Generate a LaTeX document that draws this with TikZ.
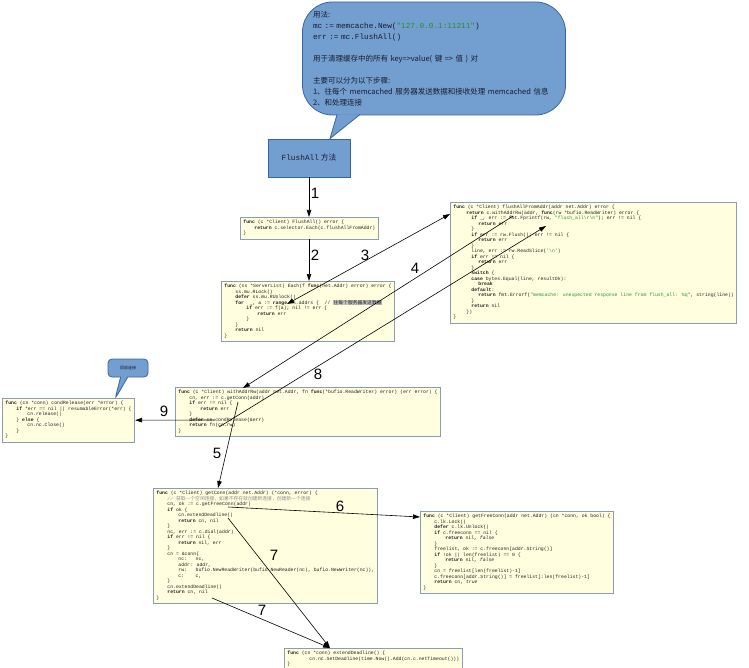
\documentclass[tikz,border=0pt]{standalone}
\usepackage{fontspec}
\setmainfont{Liberation Sans}
\newfontfamily\cjk{Noto Sans CJK SC}
\newfontfamily\codemono{Liberation Mono}
\usetikzlibrary{arrows.meta,calc,shapes.callouts}

\definecolor{notefill}{HTML}{729FCF}
\definecolor{noteedge}{HTML}{3465A4}
\definecolor{notetext}{HTML}{1A1A2E}
\definecolor{codefill}{HTML}{FFFFE0}
\definecolor{codeedge}{HTML}{8A9DB5}
\definecolor{codetext}{HTML}{202020}
\definecolor{strgreen}{HTML}{2E8B2E}
\definecolor{cmtgray}{HTML}{8A8A8A}

\newcommand\kw[1]{\textbf{#1}}
\newcommand\str[1]{\textcolor{strgreen}{#1}}
\newcommand\cmt[1]{\textcolor{cmtgray}{\itshape #1}}
\newcommand\hilite[1]{{\setlength\fboxsep{0.3pt}\colorbox{black!22}{#1}}}
\newcommand\codeind[1]{\hspace*{#1pt}}
\newcommand\idt{\codeind{11}}

\begin{document}
\begin{tikzpicture}[
    x=1pt, y=-1pt,
    >={Triangle[length=7pt,width=4.5pt]},
    codebox/.style={
        draw=codeedge,
        fill=codefill,
        line width=0.8pt,
        anchor=north west,
        align=left,
        inner sep=3pt,
        text=codetext,
        font=\codemono\fontsize{4.8}{5.5}\selectfont
    },
    note/.style={
        fill=notefill,
        draw=noteedge,
        line width=0.8pt,
        text=notetext
    },
    flow/.style={->, line width=0.6pt},
    numlabel/.style={font=\fontsize{15}{15}\selectfont, inner sep=0pt}
]
\useasboundingbox (0,0) rectangle (749,668);

% usage note and entry
\node[note, rounded corners=30pt, minimum width=263pt, minimum height=113pt,
      text width=242pt, align=left, inner sep=0pt,
      font=\cjk\fontsize{7.5}{11}\selectfont] (usage) at (434,58.5) {
    用法:\\
    {\codemono\fontsize{7.7}{11}\selectfont mc := memcache.New(\str{"127.0.0.1:11211"})}\\
    {\codemono\fontsize{7.7}{11}\selectfont err := mc.FlushAll()}\\[11pt]
    用于清理缓存中的所有 key=>value( 键 => 值 ) 对\\[11pt]
    主要可以分为以下步骤:\\
    \mbox{1、往每个 memcached 服务器发送数据和接收处理 memcached 信息}\\
    2、和处理连接
};
\node[note, minimum width=82pt, minimum height=38pt, inner sep=0pt] (flushall) at (309,158)
    {\codemono\fontsize{7.8}{9}\selectfont FlushAll\cjk\ 方法};

\coordinate (bubbletip) at (flushall.north -| 330,0);
\coordinate (tailleft) at ($(usage.south west)+(35,-1)$);
\coordinate (tailright) at ($(usage.south west)+(58,-1)$);
\fill[notefill] (tailleft) -- (bubbletip) -- (tailright) -- cycle;
\draw[noteedge, line width=0.8pt] (tailleft) -- (bubbletip) -- (tailright);

% code boxes
\node[codebox] (flushallcode) at (240,217) {
\kw{func} (c *Client) FlushAll() error \{\\
\idt\kw{return} c.selector.Each(c.flushAllFromAddr)\\
\}};

\node[codebox] (eachcode) at (221,281) {
\kw{func} (ss *ServerList) Each(f \kw{func}(net.Addr) error) error \{\\
\idt ss.mu.RLock()\\
\idt\kw{defer} ss.mu.RUnlock()\\
\idt\kw{for} \ \_, a := \kw{range} ss.addrs \{ \ // \hilite{\cjk 往每个服务器发送数据}\\
\idt\idt\kw{if} err := f(a); nil != err \{\\
\idt\idt\idt\kw{return} err\\
\idt\idt\}\\
\idt\}\\
\idt\kw{return} nil\\
\}};

\node[codebox] (fromaddrcode) at (450,202) {
\kw{func} (c *Client) flushAllFromAddr(addr net.Addr) error \{\\
\codeind{13}\kw{return} c.withAddrRw(addr, \kw{func}(rw *bufio.ReadWriter) error \{\\
\codeind{18}\kw{if} \_, err := fmt.Fprintf(rw, \str{"flush\_all\textbackslash r\textbackslash n"}); err != nil \{\\
\codeind{25}\kw{return} err\\
\codeind{18}\}\\
\codeind{18}\kw{if} err := rw.Flush(); err != nil \{\\
\codeind{25}\kw{return} err\\
\codeind{18}\}\\
\codeind{18}line, err := rw.ReadSlice(\str{'\textbackslash n'})\\
\codeind{18}\kw{if} err != nil \{\\
\codeind{25}\kw{return} err\\
\codeind{18}\}\\
\codeind{18}\kw{switch} \{\\
\codeind{18}\kw{case} bytes.Equal(line, resultOk):\\
\codeind{25}\kw{break}\\
\codeind{18}\kw{default}:\\
\codeind{25}\kw{return} fmt.Errorf(\str{"memcache: unexpected response line from flush\_all: \%q"}, string(line))\\
\codeind{18}\}\\
\codeind{18}\kw{return} nil\\
\codeind{13}\})\\
\}};

\node[codebox] (rwcode) at (175,387) {
\kw{func} (c *Client) withAddrRw(addr net.Addr, fn \kw{func}(*bufio.ReadWriter) error) (err error) \{\\
\idt cn, err := c.getConn(addr)\\
\idt\kw{if} err != nil \{\\
\idt\idt\kw{return} err\\
\idt\}\\
\idt\kw{defer} cn.condRelease(\&err)\\
\idt\kw{return} fn(cn.rw)\\
\}};

\node[codebox] (releasecode) at (2,398) {
\kw{func} (cn *conn) condRelease(err *error) \{\\
\idt\kw{if} *err == nil || resumableError(*err) \{\\
\idt\idt cn.release()\\
\idt\} \kw{else} \{\\
\idt\idt cn.nc.Close()\\
\idt\}\\
\}};

\node[codebox] (getconncode) at (153,488) {
\kw{func} (c *Client) getConn(addr net.Addr) (*conn, error) \{\\
\idt\cmt{// {\cjk 获取一个空闲连接，如果不存在就创建新连接，创建新一个连接}}\\
\idt cn, ok := c.getFreeConn(addr)\\
\idt\kw{if} ok \{\\
\idt\idt cn.extendDeadline()\\
\idt\idt\kw{return} cn, nil\\
\idt\}\\
\idt nc, err := c.dial(addr)\\
\idt\kw{if} err != nil \{\\
\idt\idt\kw{return} nil, err\\
\idt\}\\
\idt cn = \&conn\{\\
\idt\idt nc:\ \ \ nc,\\
\idt\idt addr: addr,\\
\idt\idt rw:\ \ \ bufio.NewReadWriter(bufio.NewReader(nc), bufio.NewWriter(nc)),\\
\idt\idt c:\ \ \ \ c,\\
\idt\}\\
\idt cn.extendDeadline()\\
\idt\kw{return} cn, nil\\
\}};

\node[codebox] (freeconncode) at (420,511) {
\kw{func} (c *Client) getFreeConn(addr net.Addr) (cn *conn, ok bool) \{\\
\idt c.lk.Lock()\\
\idt\kw{defer} c.lk.Unlock()\\
\idt\kw{if} c.freeconn == nil \{\\
\idt\idt\kw{return} nil, {\itshape false}\\
\idt\}\\
\idt freelist, ok := c.freeconn[addr.String()]\\
\idt\kw{if} !ok || len(freelist) == 0 \{\\
\idt\idt\kw{return} nil, {\itshape false}\\
\idt\}\\
\idt cn = freelist[len(freelist)-1]\\
\idt c.freeconn[addr.String()] = freelist[:len(freelist)-1]\\
\idt\kw{return} cn, {\itshape true}\\
\}};

\node[codebox] (deadlinecode) at (284,648) {
\kw{func} (cn *conn) extendDeadline() \{\\
\idt\idt cn.nc.SetDeadline(time.Now().Add(cn.c.netTimeout()))\\
\}};

\coordinate (releasetip) at ($(releasecode.north west)+(113,1)$);
\node[note, rectangle callout, rounded corners=4pt, callout absolute pointer={(releasetip)},
      minimum width=40pt, minimum height=18pt, inner sep=0pt,
      font=\cjk\fontsize{4}{4}\selectfont] (releasenote) at (128,368) {回收连接};

% call points
\coordinate (callf) at ($(eachcode.north west)+(66,23)$);
\coordinate (centry) at ($(fromaddrcode.north west)+(0,12)$);
\coordinate (cwithrw) at ($(fromaddrcode.north west)+(63,14)$);
\coordinate (cbody) at ($(fromaddrcode.north west)+(96,24)$);
\coordinate (drw) at ($(rwcode.north west)+(68,1)$);
\coordinate (dgetconn) at ($(rwcode.north west)+(63,15)$);
\coordinate (dcond) at ($(rwcode.north west)+(40,33)$);
\coordinate (dfn) at ($(rwcode.north west)+(44,40)$);
\coordinate (fentry) at ($(getconncode.north west)+(65,0)$);
\coordinate (ffree) at ($(getconncode.north west)+(75,19)$);
\coordinate (fext1) at ($(getconncode.north west)+(75,30)$);
\coordinate (fext2) at ($(getconncode.north west)+(59,110)$);
\coordinate (gentry) at ($(freeconncode.north west)+(0,6)$);
\coordinate (hentry) at ($(deadlinecode.north west)+(46,0)$);

% call order
\draw[flow] (flushall.south) -- (flushall.south |- flushallcode.north);
\draw[flow] (flushallcode.south -| flushall) -- (flushall |- eachcode.north);
\draw[flow, <->] (callf) -- (centry);
\draw[flow] (cwithrw) -- (drw);
\draw[flow] (dgetconn) -- (fentry);
\draw[flow] (ffree) -- (gentry);
\draw[flow] (fext1) -- (hentry);
\draw[flow] (fext2) -- (hentry);
\draw[flow] (dfn) -- (cbody);
\draw[flow] (dcond) -- (releasecode.east);

\node[numlabel] (lbl1) at (315,193) {1};
\node[numlabel] (lbl2) at (315,255) {2};
\node[numlabel] (lbl3) at (365,255) {3};
\node[numlabel] (lbl4) at (415,268) {4};
\node[numlabel] (lbl5) at (217,453) {5};
\node[numlabel] (lbl6) at (340,506) {6};
\node[numlabel] (lbl7a) at (274,555) {7};
\node[numlabel] (lbl7b) at (262,610) {7};
\node[numlabel] (lbl8) at (318,374) {8};
\node[numlabel] (lbl9) at (164,411) {9};

\end{tikzpicture}
\end{document}
